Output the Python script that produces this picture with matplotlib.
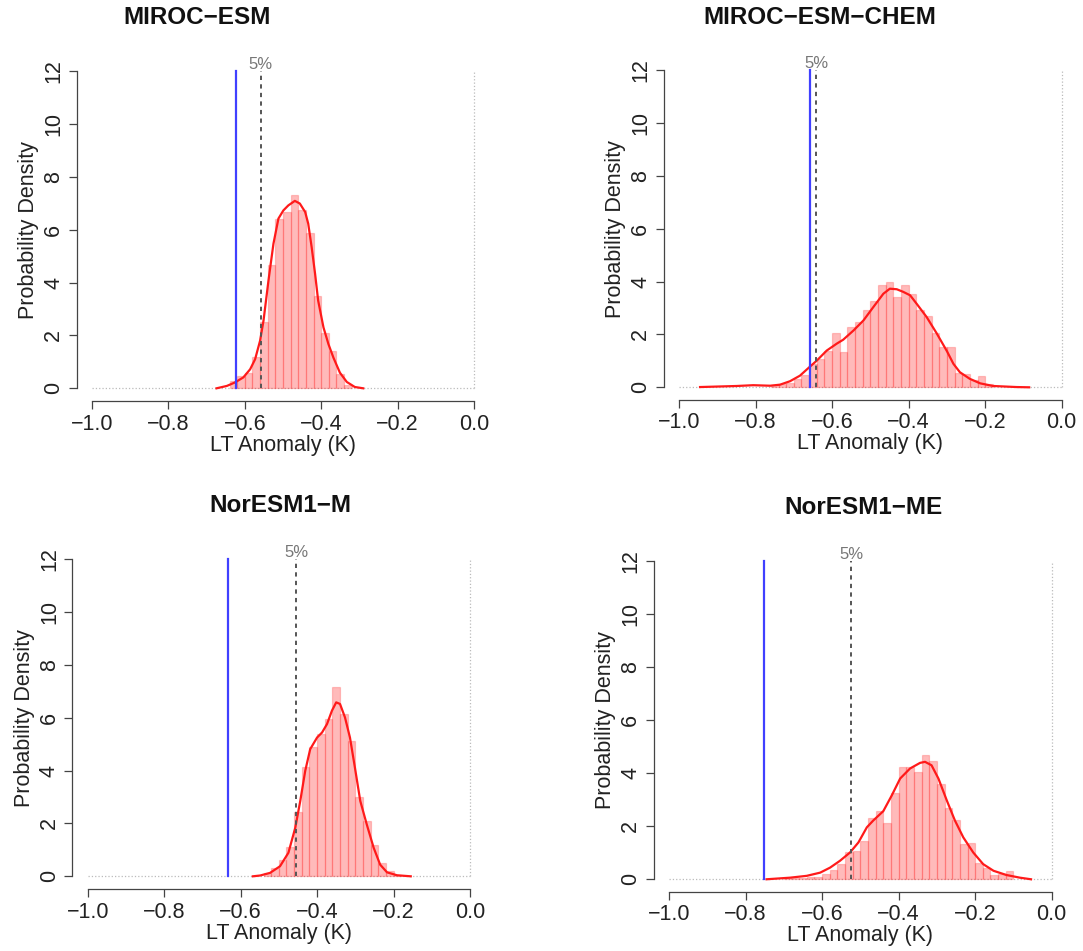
#!/usr/bin/env python3
"""Histogramas de anomalia LT (K) para cuatro modelos, estilo R base."""

import numpy as np
import matplotlib
matplotlib.use("Agg")
import matplotlib.pyplot as plt

plt.rcParams["font.family"] = ["Liberation Sans", "DejaVu Sans"]

# -----------------------------------------------------------------------------
# Datos -----------------------------------------------------------------------
# -----------------------------------------------------------------------------
BIN_WIDTH = 0.02
TITLES = ["MIROC\u2212ESM", "MIROC\u2212ESM\u2212CHEM", "NorESM1\u2212M", "NorESM1\u2212ME"]

# MIROC-ESM
miroc_first_edge = -0.64
miroc_hist = [0.28, 0.45, 0.58, 1.19, 2.49, 4.68, 6.42, 6.67, 7.30, 6.73, 5.87,
              3.51, 2.11, 1.42, 0.56, 0.12]
miroc_kde_x = [-0.674, -0.647, -0.626, -0.604, -0.586, -0.573, -0.560, -0.551, -0.538,
               -0.525, -0.512, -0.499, -0.486, -0.469, -0.456, -0.442, -0.434, -0.425,
               -0.416, -0.408, -0.394, -0.381, -0.368, -0.351, -0.333, -0.312, -0.290]
miroc_kde_y = [0.0, 0.09, 0.22, 0.41, 0.72, 1.10, 1.80, 2.56, 4.08, 5.47, 6.42, 6.73,
               6.92, 7.09, 6.99, 6.67, 6.23, 5.34, 4.33, 3.32, 2.30, 1.67, 1.16, 0.59,
               0.24, 0.05, 0.0]
miroc_obs = -0.624
miroc_p5 = -0.558

# MIROC-ESM-CHEM
chem_first_edge = -0.76
chem_hist = [0.08, 0.12, 0.15, 0.30, 0.45, 0.90, 1.08, 1.39, 2.05, 1.33, 2.30, 2.47,
             2.91, 3.27, 3.86, 3.97, 3.42, 3.86, 3.52, 2.94, 2.68, 2.05, 1.52, 1.52,
             0.53, 0.51, 0.28, 0.41, 0.13]
chem_kde_x = [-0.945, -0.849, -0.806, -0.762, -0.736, -0.710, -0.684, -0.658, -0.640,
              -0.614, -0.588, -0.571, -0.544, -0.518, -0.492, -0.466, -0.449, -0.431,
              -0.414, -0.396, -0.379, -0.353, -0.327, -0.300, -0.283, -0.266, -0.240,
              -0.213, -0.179, -0.118, -0.085]
chem_kde_y = [0.01, 0.05, 0.08, 0.06, 0.10, 0.23, 0.44, 0.78, 1.01, 1.39, 1.65, 1.80,
              2.15, 2.53, 3.04, 3.54, 3.73, 3.71, 3.61, 3.48, 3.16, 2.66, 2.05, 1.37,
              0.89, 0.57, 0.32, 0.15, 0.05, 0.01, 0.0]
chem_obs = -0.657
chem_p5 = -0.641

# NorESM1-M
norm_first_edge = -0.54
norm_hist = [0.13, 0.32, 0.63, 1.11, 2.44, 4.15, 4.89, 5.38, 5.95, 7.15, 6.14, 5.10,
             3.00, 2.09, 1.20, 0.51, 0.19, 0.05]
norm_kde_x = [-0.568, -0.549, -0.523, -0.497, -0.475, -0.457, -0.444, -0.431, -0.418,
              -0.400, -0.387, -0.374, -0.361, -0.350, -0.340, -0.327, -0.314, -0.301,
              -0.287, -0.270, -0.252, -0.235, -0.217, -0.191, -0.155]
norm_kde_y = [0.0, 0.03, 0.13, 0.38, 0.89, 1.84, 2.85, 3.99, 4.81, 5.25, 5.44, 5.76,
              6.27, 6.58, 6.52, 6.01, 5.25, 4.11, 2.85, 1.96, 1.08, 0.44, 0.15, 0.04, 0.0]
norm_obs = -0.632
norm_p5 = -0.455

# NorESM1-ME
nore_first_edge = -0.70
nore_hist = [0.03, 0.05, 0.06, 0.08, 0.09, 0.19, 0.34, 0.57, 1.01, 1.05, 1.43, 2.32,
             2.57, 2.11, 3.27, 4.22, 4.24, 4.03, 4.68, 4.47, 3.61, 2.70, 2.25, 1.33,
             1.37, 0.61, 0.42, 0.16, 0.19, 0.32]
nore_kde_x = [-0.745, -0.684, -0.640, -0.605, -0.579, -0.553, -0.527, -0.505, -0.483,
              -0.466, -0.440, -0.418, -0.396, -0.370, -0.344, -0.331, -0.314, -0.296,
              -0.274, -0.253, -0.231, -0.205, -0.179, -0.152, -0.118, -0.083, -0.054]
nore_kde_y = [0.0, 0.06, 0.13, 0.25, 0.44, 0.70, 1.01, 1.39, 1.96, 2.22, 2.57, 3.16,
              3.80, 4.18, 4.39, 4.43, 4.30, 3.80, 2.97, 2.22, 1.58, 1.01, 0.57, 0.32,
              0.16, 0.06, 0.0]
nore_obs = -0.752
nore_p5 = -0.524

# -----------------------------------------------------------------------------
# Disposicion (pixeles de la figura 1083x951) ---------------------------------
# -----------------------------------------------------------------------------
W, H = 1083, 951
# (izq, der, arriba, abajo) de cada region de grafico
PANEL_PX = [(76.7, 489.3, 58.4, 401.0),
            (663.7, 1077.0, 57.4, 400.0),
            (72.4, 485.3, 546.4, 889.0),
            (653.7, 1067.0, 548.4, 892.0)]
TITLE_PX = [(197, 18), (820, 18), (280, 506), (863, 508)]

AXIS_COLOR = "#444444"
FS = 15.5


def draw_panel(fig, rect_px, first_edge, hist, kde_x, kde_y, obs, p5):
    l, r, t, b = rect_px
    ax = fig.add_axes([l / W, (H - b) / H, (r - l) / W, (b - t) / H])
    ax.set_xlim(-1.04, 0.04)
    ax.set_ylim(-0.48, 12.48)

    edges = first_edge + BIN_WIDTH * np.arange(len(hist))
    ax.bar(edges, hist, width=BIN_WIDTH, align="edge",
           facecolor=(1, 0, 0, 0.27), edgecolor=(1, 0, 0, 0.2), linewidth=0.9,
           zorder=2)
    ax.plot(kde_x, kde_y, color="#ff1a1a", linewidth=1.6, zorder=3)

    # lineas de referencia punteadas
    ax.plot([-1, 0], [0, 0], color="#bbbbbb", linestyle=":", linewidth=0.9, zorder=1)
    ax.plot([0, 0], [0, 12], color="#bbbbbb", linestyle=":", linewidth=0.9, zorder=1)

    ax.plot([obs, obs], [0, 12], color="#4040ff", linewidth=1.6, zorder=4)
    ax.plot([p5, p5], [0, 12], color="#555555", linewidth=1.4,
            linestyle=(0, (2.2, 2.2)), zorder=4)
    ax.text(p5, 12.07, "5%", color="#777777", fontsize=12, ha="center",
            va="baseline")

    for side in ["top", "right"]:
        ax.spines[side].set_visible(False)
    ax.spines["left"].set_bounds(0, 12)
    ax.spines["bottom"].set_bounds(-1, 0)
    for side in ["left", "bottom"]:
        ax.spines[side].set_color(AXIS_COLOR)
        ax.spines[side].set_linewidth(0.9)

    ax.set_xticks([-1.0, -0.8, -0.6, -0.4, -0.2, 0.0])
    ax.set_xticklabels(["\u22121.0", "\u22120.8", "\u22120.6", "\u22120.4", "\u22120.2", "0.0"])
    ax.set_yticks([0, 2, 4, 6, 8, 10, 12])
    ax.tick_params(length=5.5, width=0.9, color=AXIS_COLOR, labelsize=FS,
                   labelcolor="#222222", pad=3.5)
    for lab in ax.get_yticklabels():
        lab.set_rotation(90)
        lab.set_va("center")
        lab.set_ha("right")

    ax.set_xlabel("LT Anomaly (K)", fontsize=FS, color="#222222", labelpad=0)
    ax.set_ylabel("Probability Density", fontsize=FS, color="#222222", labelpad=3)
    return ax


def main():
    fig = plt.figure(figsize=(W / 100, H / 100), dpi=100)
    panels = [
        (miroc_first_edge, miroc_hist, miroc_kde_x, miroc_kde_y, miroc_obs, miroc_p5),
        (chem_first_edge, chem_hist, chem_kde_x, chem_kde_y, chem_obs, chem_p5),
        (norm_first_edge, norm_hist, norm_kde_x, norm_kde_y, norm_obs, norm_p5),
        (nore_first_edge, nore_hist, nore_kde_x, nore_kde_y, nore_obs, nore_p5),
    ]
    for rect, data, title, (tx, ty) in zip(PANEL_PX, panels, TITLES, TITLE_PX):
        draw_panel(fig, rect, *data)
        fig.text(tx / W, 1 - ty / H, title, fontsize=17.5, fontweight="bold",
                 ha="center", va="center", color="#111111")

    fig.savefig("out.png", dpi=100)
    plt.close(fig)


if __name__ == "__main__":
    main()
